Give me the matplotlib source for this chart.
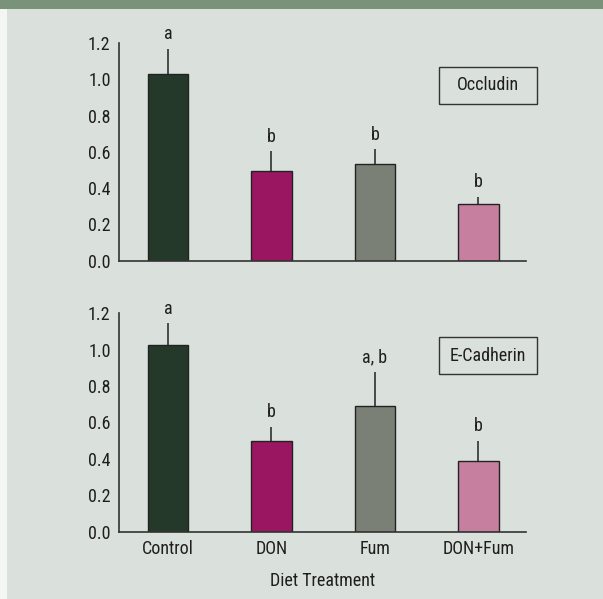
import matplotlib
matplotlib.use("Agg")
import matplotlib.pyplot as plt
from matplotlib import font_manager
from matplotlib.patches import Rectangle


treatments = ["Control", "DON", "Fum", "DON+Fum"]
bar_colors = ["#25392a", "#9a1660", "#7a8076", "#c77fa0"]

occludin = [1.027, 0.494, 0.533, 0.313]
occludin_err = [0.14, 0.11, 0.08, 0.04]
occludin_letters = ["a", "b", "b", "b"]

ecad = [1.026, 0.497, 0.689, 0.388]
ecad_err = [0.12, 0.08, 0.19, 0.11]
ecad_letters = ["a", "b", "a, b", "b"]

yticks = [0.0, 0.2, 0.4, 0.6, 0.8, 1.0, 1.2]

bg = "#dae1dc"
dark = "#333333"
ink = "#1e1e1e"

# pick a narrow font if one is there (the original uses a condensed face)
names = set(f.name for f in font_manager.fontManager.ttflist)
narrow = [n for n in ["Roboto Condensed", "Liberation Sans Narrow", "Open Sans Condensed",
                      "DejaVu Sans Condensed"] if n in names]
plt.rcParams['font.family'] = narrow + ['DejaVu Sans']
if not narrow:
    plt.rcParams['font.stretch'] = 'condensed'
plt.rcParams['font.size'] = 13

fig = plt.figure(figsize=(6.03, 5.99), dpi=100)
fig.patch.set_facecolor(bg)

# banner strip on top and the white margin on the left
fig.patches.append(Rectangle((0, 1 - 8.7 / 599), 1, 8.7 / 599, transform=fig.transFigure,
                             facecolor="#7a917a", edgecolor="none", zorder=0))
fig.patches.append(Rectangle((0, 0), 7 / 603, 1 - 8.7 / 599, transform=fig.transFigure,
                             facecolor="#f4f6f4", edgecolor="none", zorder=0))


def panel(ax, values, errs, letters, name, show_x):
    x = list(range(len(treatments)))
    ax.bar(x, values, width=0.39, color=bar_colors, edgecolor="#222222", linewidth=1.0, zorder=2)
    ax.errorbar(x, values, yerr=[[0] * len(errs), errs], fmt="none", ecolor="#222222",
                elinewidth=1.1, capsize=0, zorder=1)
    for xi, v, e, lab in zip(x, values, errs, letters):
        ax.annotate(lab, (xi, v + e), xytext=(0, 10.5), textcoords="offset points",
                    ha="center", va="center", color=ink)
    ax.set_xlim(-0.473, 3.459)
    ax.set_ylim(0, 1.2)
    ax.set_yticks(yticks)
    ax.set_yticklabels(["%.1f" % t for t in yticks])
    ax.set_facecolor(bg)
    ax.spines["top"].set_visible(False)
    ax.spines["right"].set_visible(False)
    for s in ("left", "bottom"):
        ax.spines[s].set_color(dark)
        ax.spines[s].set_linewidth(1.2)
    ax.tick_params(length=0, pad=6, colors=ink, labelsize=13)
    ax.set_xticks(x)
    if show_x:
        ax.set_xticklabels(treatments)
        ax.tick_params(axis="x", pad=6)
        ax.set_xlabel("Diet Treatment", labelpad=10, color=ink)
    else:
        ax.set_xticklabels([])
    # label box
    ax.add_patch(Rectangle((0.787, 0.72), 0.239, 0.17, transform=ax.transAxes, facecolor="none",
                           edgecolor=dark, linewidth=1.0, clip_on=False))
    ax.text(0.9065, 0.805, name, transform=ax.transAxes, ha="center", va="center", color=ink)


ax1 = fig.add_axes([0.1973, 0.5648, 0.675, 0.3634])
panel(ax1, occludin, occludin_err, occludin_letters, "Occludin", False)

ax2 = fig.add_axes([0.1973, 0.1124, 0.675, 0.3646])
panel(ax2, ecad, ecad_err, ecad_letters, "E-Cadherin", True)

plt.savefig("out.png", dpi=100, facecolor=fig.get_facecolor())
